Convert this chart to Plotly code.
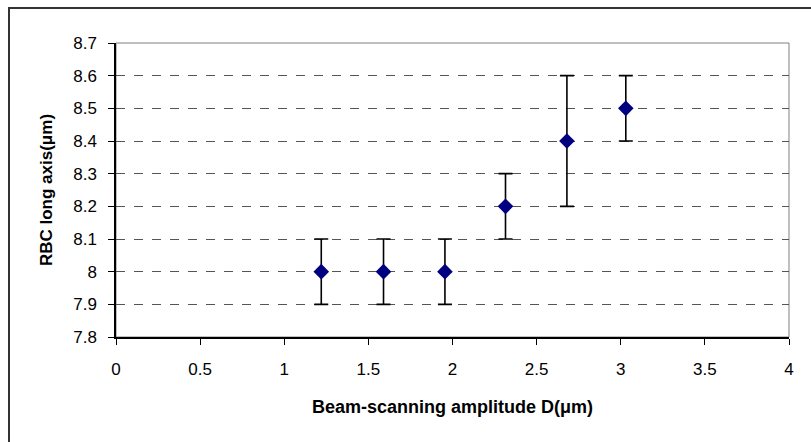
import plotly.graph_objects as go

amplitude_D = [1.22, 1.59, 1.955, 2.315, 2.68, 3.03]
rbc_long_axis = [8.0, 8.0, 8.0, 8.2, 8.4, 8.5]
error_plus_minus = [0.1, 0.1, 0.1, 0.1, 0.2, 0.1]
x_ticks = [0, 0.5, 1, 1.5, 2, 2.5, 3, 3.5, 4]
y_ticks = [7.8, 7.9, 8.0, 8.1, 8.2, 8.3, 8.4, 8.5, 8.6, 8.7]
y_tick_text = ["7.8", "7.9", "8", "8.1", "8.2", "8.3", "8.4", "8.5", "8.6", "8.7"]

W, H = 811, 442
L, R, T, B = 116, 22, 43, 105
pw, ph = W - L - R, H - T - B

fig = go.Figure()
fig.add_trace(go.Scatter(
    x=amplitude_D, y=rbc_long_axis, mode="markers",
    marker=dict(symbol="diamond", size=12, color="#000080"),
    error_y=dict(type="data", array=error_plus_minus, visible=True,
                 color="black", thickness=1.6, width=7),
    showlegend=False, cliponaxis=False,
))

font = "Liberation Sans, Arial, sans-serif"
fig.update_layout(
    width=W, height=H,
    margin=dict(l=L, r=R, t=T, b=B, autoexpand=False),
    paper_bgcolor="white", plot_bgcolor="white",
    font=dict(family=font, size=17, color="black"),
    xaxis=dict(range=[0, 4], tickvals=x_ticks, ticktext=[str(v) for v in x_ticks],
               showgrid=False, zeroline=False, showline=True, linecolor="black",
               linewidth=1.5, ticks="outside", ticklen=6, tickcolor="black",
               tickfont=dict(size=17), ticklabelstandoff=10,
               title=dict(text="<b>Beam-scanning amplitude D(μm)</b>",
                          font=dict(size=18), standoff=22)),
    yaxis=dict(range=[7.8, 8.7], tickvals=y_ticks, ticktext=y_tick_text,
               showgrid=True, gridcolor="#555555", griddash="dash", gridwidth=1,
               zeroline=False, showline=True, linecolor="black", linewidth=1.5,
               ticks="outside", ticklen=6, tickcolor="black",
               tickfont=dict(size=17), ticklabelstandoff=8,
               title=dict(text="<b>RBC long axis(μm)</b>", font=dict(size=17),
                          standoff=16)),
    shapes=[
        dict(type="rect", xref="paper", yref="paper", x0=0, x1=1, y0=0, y1=1,
             line=dict(color="#808080", width=1), layer="below"),
        dict(type="rect", xref="paper", yref="paper",
             x0=(9 - L) / pw, x1=1.2, y0=-0.6, y1=(H - B - 8) / ph,
             line=dict(color="#333333", width=2)),
    ],
)
fig.write_html("out.html")
